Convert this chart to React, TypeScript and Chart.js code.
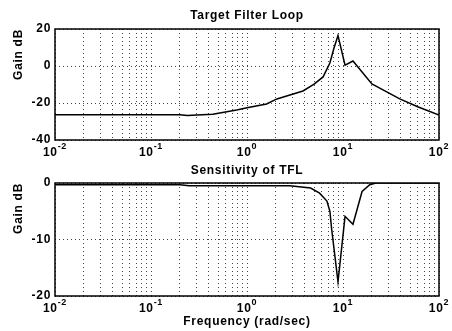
import React, { useEffect, useRef } from 'react';
import { Chart, registerables } from 'chart.js';

Chart.register(...registerables);

// ---- data ----
const topFreq = [0.01, 0.05, 0.2, 0.24, 0.3, 0.44, 0.78, 1.0, 1.6, 2.05, 2.8, 3.83, 5.0, 6.2, 7.3, 8.06, 8.87, 10.5, 12.7, 20, 39, 60, 100];
const topGain = [-26.3, -26.3, -26.3, -26.7, -26.5, -26.1, -23.8, -22.6, -20.5, -17.8, -15.7, -13.5, -9.8, -5.9, 1.6, 9.7, 16.5, 0.5, 2.7, -9.7, -17.8, -22, -26.5];

const botFreq = [0.01, 0.2, 0.25, 2.8, 4.6, 5.7, 6.8, 7.3, 7.6, 8.87, 10.5, 12.7, 15.8, 19, 22, 100];
const botGain = [-0.3, -0.3, -0.5, -0.5, -0.9, -1.8, -3.2, -5, -8, -17.5, -5.9, -7.3, -1.5, -0.3, 0, 0];

const xTickValues = [0.01, 0.1, 1, 10, 100];
const xTickBase = '10';
const xTickExponents = ['-2', '-1', '0', '1', '2'];
const gridMultipliers = [1, 2, 3, 4, 5, 6, 7, 8, 9];

const topYTicks = { min: -40, max: 20, step: 20 };
const botYTicks = { min: -20, max: 0, step: 10 };

const topTitle = 'Target Filter Loop';
const botTitle = 'Sensitivity of TFL';
const yTitle = 'Gain dB';
const xTitle = 'Frequency (rad/sec)';

const FONT = "'Liberation Sans', Arial, Helvetica, sans-serif";
const SPACING = '0.7px';

const gridValues: number[] = [];
xTickValues.slice(0, -1).forEach((d) => gridMultipliers.forEach((m) => gridValues.push(d * m)));
gridValues.push(xTickValues[xTickValues.length - 1]);

function framePlugin(title: string, titleY: number, labelY: number) {
  return {
    id: 'frameTitle',
    beforeUpdate(chart: any) {
      chart.ctx.letterSpacing = SPACING;
    },
    beforeDraw(chart: any) {
      chart.ctx.letterSpacing = SPACING;
    },
    afterDraw(chart: any) {
      const { ctx, chartArea: a } = chart;
      const xs = chart.scales.x;
      ctx.save();
      ctx.strokeStyle = '#000';
      ctx.lineWidth = 1.5;
      ctx.setLineDash([]);
      ctx.strokeRect(a.left, a.top, a.right - a.left, a.bottom - a.top);
      ctx.fillStyle = '#000';
      ctx.letterSpacing = SPACING;
      ctx.textBaseline = 'middle';
      ctx.textAlign = 'center';
      ctx.font = `bold 12px ${FONT}`;
      ctx.fillText(title, (a.left + a.right) / 2, titleY);
      // x tick labels: base with raised exponent
      ctx.textAlign = 'left';
      ctx.textBaseline = 'alphabetic';
      xTickValues.forEach((v, i) => {
        const px = xs.getPixelForValue(v);
        ctx.font = `bold 12px ${FONT}`;
        const wb = ctx.measureText(xTickBase).width;
        ctx.font = `bold 9px ${FONT}`;
        const we = ctx.measureText(xTickExponents[i]).width;
        const x0 = px - (wb + we) / 2;
        ctx.font = `bold 12px ${FONT}`;
        ctx.fillText(xTickBase, x0, a.bottom + labelY);
        ctx.font = `bold 9px ${FONT}`;
        ctx.fillText(xTickExponents[i], x0 + wb, a.bottom + labelY - 7);
      });
      ctx.restore();
    },
  };
}

function makeConfig(
  freq: number[],
  gain: number[],
  yt: { min: number; max: number; step: number },
  title: string,
  titleY: number,
  padTop: number,
  xHeight: number,
  showXTitle: boolean
): any {
  return {
    type: 'line',
    data: {
      datasets: [
        {
          data: freq.map((f, i) => ({ x: f, y: gain[i] })),
          borderColor: '#000',
          borderWidth: 1.5,
          pointRadius: 0,
          fill: false,
          tension: 0,
        },
      ],
    },
    options: {
      responsive: false,
      animation: false,
      layout: { padding: { top: padTop, right: 13, left: 0, bottom: 0 } },
      plugins: { legend: { display: false }, tooltip: { enabled: false }, title: { display: false } },
      scales: {
        x: {
          type: 'logarithmic',
          min: 0.01,
          max: 100,
          afterBuildTicks(s: any) {
            s.ticks = gridValues.map((v) => ({ value: v }));
          },
          afterFit(s: any) {
            s.height = xHeight;
          },
          ticks: { display: false, autoSkip: false, maxRotation: 0 },
          grid: { color: '#444', lineWidth: 1, drawTicks: false },
          border: { display: false, dash: [1, 3] },
          title: {
            display: showXTitle,
            text: xTitle,
            color: '#000',
            font: { family: FONT, size: 12, weight: 'bold' },
            padding: { top: 0, bottom: 2 },
          },
        },
        y: {
          type: 'linear',
          min: yt.min,
          max: yt.max,
          afterFit(s: any) {
            s.width = 55;
          },
          ticks: {
            stepSize: yt.step,
            padding: 4,
            color: '#000',
            font: { family: FONT, size: 12, weight: 'bold' },
          },
          grid: { color: '#444', lineWidth: 1, drawTicks: false },
          border: { display: false, dash: [1, 3] },
          title: {
            display: true,
            text: yTitle,
            align: 'end',
            color: '#000',
            font: { family: FONT, size: 12, weight: 'bold' },
            padding: { top: 11, bottom: 0 },
          },
        },
      },
    },
    plugins: [framePlugin(title, titleY, 16)],
  };
}

export default function App() {
  const topRef = useRef<HTMLCanvasElement>(null);
  const botRef = useRef<HTMLCanvasElement>(null);

  useEffect(() => {
    const c1 = new Chart(topRef.current as HTMLCanvasElement, makeConfig(topFreq, topGain, topYTicks, topTitle, 16, 29, 25, false));
    const c2 = new Chart(botRef.current as HTMLCanvasElement, makeConfig(botFreq, botGain, botYTicks, botTitle, 6, 18, 35, true));
    return () => {
      c1.destroy();
      c2.destroy();
    };
  }, []);

  return (
    <div style={{ position: 'absolute', left: 0, top: 0, width: 452, height: 331, background: '#fff' }}>
      <canvas ref={topRef} width={452} height={165} style={{ position: 'absolute', left: 0, top: 0, width: 452, height: 165 }} />
      <canvas ref={botRef} width={452} height={166} style={{ position: 'absolute', left: 0, top: 165, width: 452, height: 166 }} />
    </div>
  );
}
